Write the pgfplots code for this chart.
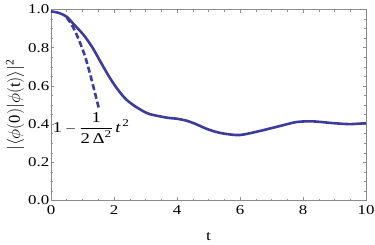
\documentclass[border=0pt]{standalone}
\usepackage{amsmath}
\usepackage{pgfplots}
\pgfplotsset{compat=1.18}
\usepackage{fontspec}
\setmainfont{Liberation Serif}
\newfontfamily\stretched{Liberation Serif}[FakeStretch=1.25]
\definecolor{curve}{RGB}{61,61,153}
\definecolor{frame}{RGB}{140,140,140}
\begin{document}
\begin{tikzpicture}
\begin{axis}[
  scale only axis,
  width=315pt, height=191pt,
  xmin=0, xmax=10, ymin=0, ymax=1,
  xtick={0,2,...,10}, ytick={0,0.2,...,1.0},
  minor x tick num=3, minor y tick num=3,
  tick align=inside,
  major tick length=3.5pt, minor tick length=2pt,
  axis line style={frame, line width=0.6pt},
  every tick/.style={frame, line width=0.5pt},
  tick label style={font=\fontsize{13.5}{15}\stretched},
  /pgf/number format/assume math mode=true,
  yticklabel style={/pgf/number format/fixed, /pgf/number format/fixed zerofill, /pgf/number format/precision=1, inner sep=1.5pt},
  xticklabel style={inner sep=4.5pt},
]
\addplot[curve, line width=2.6pt, smooth] coordinates {
(0,0.99) (0.25,0.982) (0.5,0.962) (0.71,0.925) (1.03,0.868) (1.3,0.805) (1.56,0.73)
(1.82,0.655) (2.08,0.59) (2.35,0.535) (2.61,0.50) (2.9,0.47) (3.14,0.452) (3.67,0.434)
(4.0,0.428) (4.3,0.418) (4.6,0.400) (4.9,0.378) (5.2,0.361) (5.5,0.350) (6.0,0.343)
(6.63,0.364) (7.27,0.39) (7.8,0.411) (8.33,0.414) (8.96,0.405) (9.49,0.4) (10,0.405)};
\addplot[curve, line width=2.6pt, dash pattern=on 6pt off 3pt, smooth] coordinates {
(0.5,0.958) (0.71,0.905) (0.9,0.835) (1.1,0.745) (1.3,0.625) (1.53,0.475)};
\node[font=\fontsize{15}{17}\stretched] at (axis cs:1.27,0.38) {$\text{1}-\dfrac{\text{1}}{\text{2\,Δ}^{\text{2}}}\,\textit{t}^{\,\text{2}}$};
\end{axis}
\node[font=\fontsize{14}{16}\stretched] at ([yshift=-36pt]current axis.south) {t};
\node[rotate=90, font=\fontsize{16.5}{18}\selectfont] at ([xshift=-36pt]current axis.west) {$|\langle\phi(\text{0})|\phi(\text{t})\rangle|^{\text{2}}$};
\pgfresetboundingbox
\path ([shift={(-51pt,-44pt)}]current axis.south west) rectangle ([shift={(9pt,9.5pt)}]current axis.north east);
\end{tikzpicture}
\end{document}
